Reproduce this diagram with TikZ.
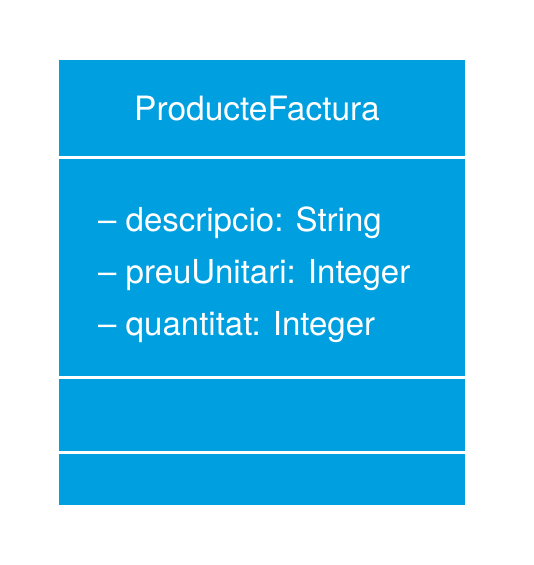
\documentclass[tikz,border=0pt]{standalone}
\usepackage{fontspec}
\setmainfont{TeX Gyre Heros}
\definecolor{umlblue}{RGB}{0,159,224}

\begin{document}
\begin{tikzpicture}[x=1pt,y=-1pt,
    attr/.style={anchor=base west,inner sep=0pt,text=white,font=\fontsize{33}{36}\selectfont},
    sep/.style={draw=white,line width=3pt}]
    \useasboundingbox (0,0) rectangle (533,565);
    \fill [umlblue] (59,60) rectangle (465,505);
    \draw [sep] (59,157) -- (465,157);
    \draw [sep] (59,377) -- (465,377);
    \draw [sep] (59,452) -- (465,452);
    \node [attr,anchor=base,font=\fontsize{33.5}{36}\selectfont] (title) at (257,120) {ProducteFactura};
    \node [attr] (a1) at (98,231) {– descripcio: String};
    \node [attr] (a2) at (98,283) {– preuUnitari: Integer};
    \node [attr] (a3) at (98,335) {– quantitat: Integer};
\end{tikzpicture}
\end{document}
